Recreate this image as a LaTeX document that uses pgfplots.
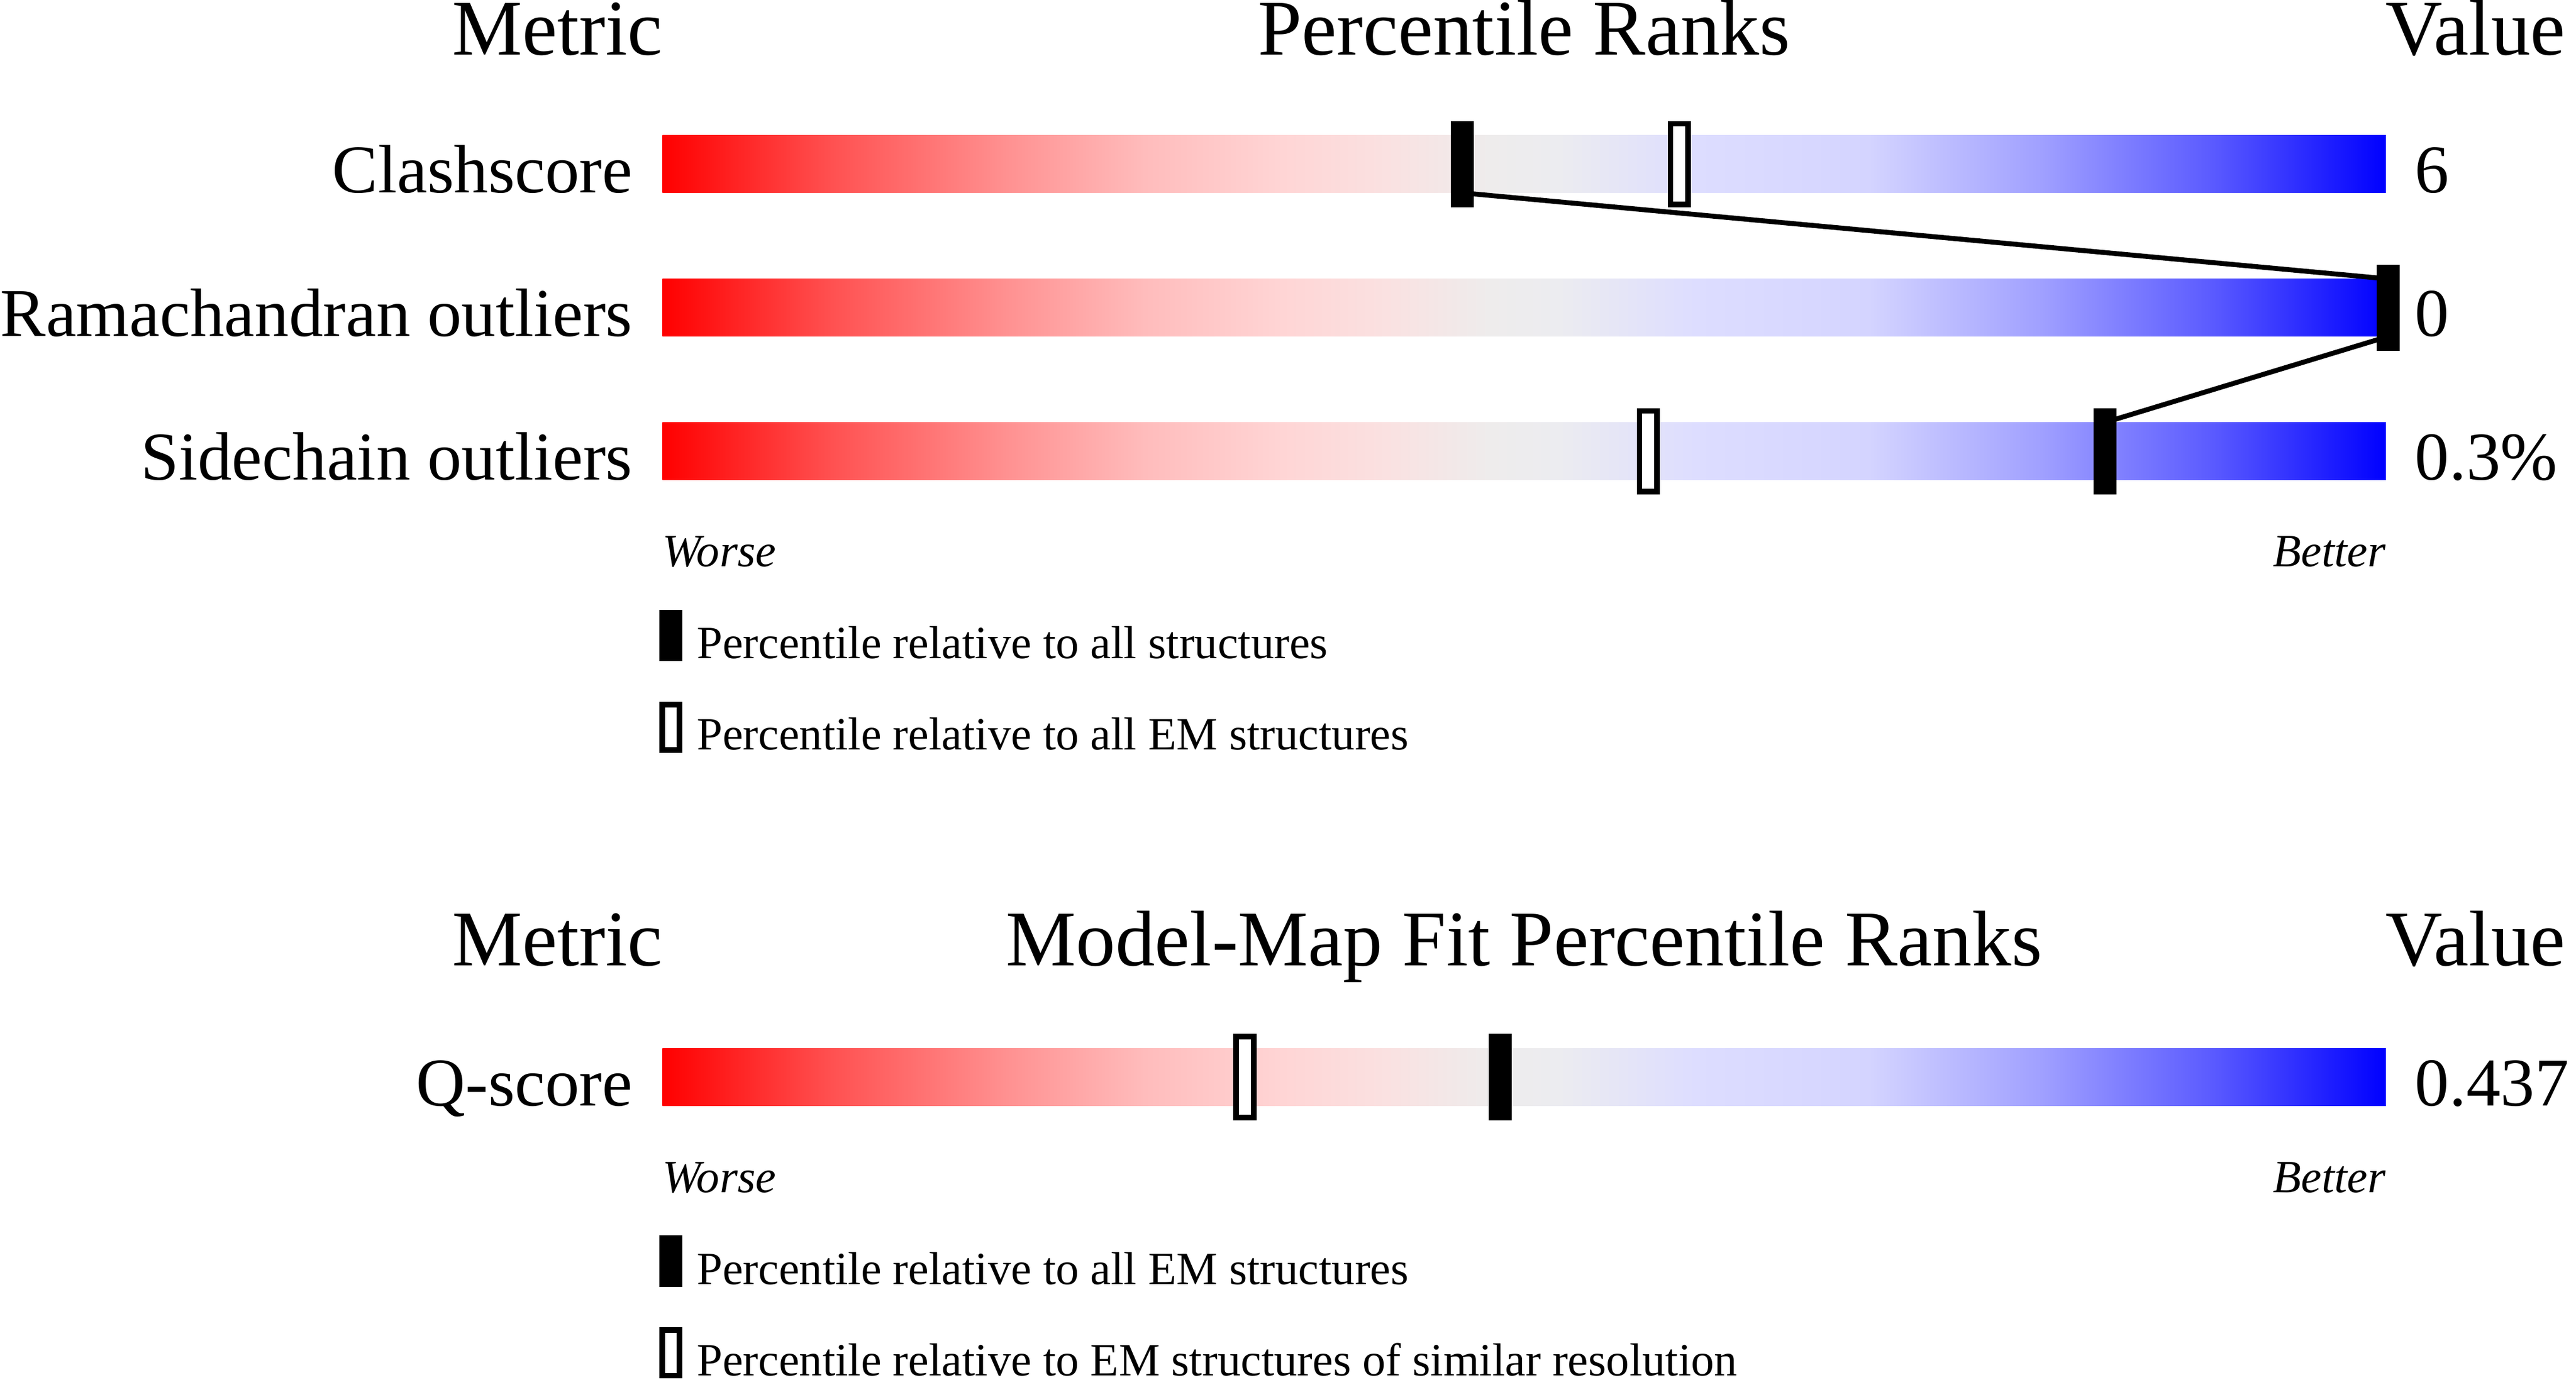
\documentclass[border=0pt]{standalone}
\usepackage{fontspec}
\setmainfont{Liberation Serif}
\usepackage{pgfplots}
\pgfplotsset{compat=1.18}

% slider colours, left (worse) to right (better)
\definecolor{s00}{RGB}{255,0,0}
\definecolor{s10}{RGB}{255,82,82}
\definecolor{s20}{RGB}{255,145,145}
\definecolor{s28}{RGB}{255,188,188}
\definecolor{s36}{RGB}{255,213,213}
\definecolor{s42}{RGB}{250,225,225}
\definecolor{s48}{RGB}{238,236,236}
\definecolor{s52}{RGB}{236,236,240}
\definecolor{s60}{RGB}{221,221,255}
\definecolor{s70}{RGB}{212,212,255}
\definecolor{s80}{RGB}{160,160,255}
\definecolor{s90}{RGB}{90,90,255}
\definecolor{s100}{RGB}{0,0,255}
\pgfdeclarehorizontalshading{slider}{100bp}{%
  color(0bp)=(s00); color(25bp)=(s00); color(30bp)=(s10); color(35bp)=(s20);
  color(39bp)=(s28); color(43bp)=(s36); color(46bp)=(s42); color(49bp)=(s48);
  color(51bp)=(s52); color(55bp)=(s60); color(60bp)=(s70); color(65bp)=(s80);
  color(70bp)=(s90); color(75bp)=(s100); color(100bp)=(s100)}

% percentile markers (1 px of the original = 0.01cm)
\pgfdeclareplotmark{pctfull}{%
  \pgfpathrectangle{\pgfpoint{-0.07cm}{-0.2625cm}}{\pgfpoint{0.14cm}{0.525cm}}%
  \pgfusepathqfill}
\pgfdeclareplotmark{pcthollow}{%
  \pgfsetlinewidth{0.034cm}%
  \pgfpathrectangle{\pgfpoint{-0.053cm}{-0.2455cm}}{\pgfpoint{0.106cm}{0.491cm}}%
  \pgfusepathqfillstroke}
\pgfdeclareplotmark{legfull}{%
  \pgfpathrectangle{\pgfpoint{-0.0695cm}{-0.156cm}}{\pgfpoint{0.139cm}{0.312cm}}%
  \pgfusepathqfill}
\pgfdeclareplotmark{leghollow}{%
  \pgfsetlinewidth{0.034cm}%
  \pgfpathrectangle{\pgfpoint{-0.0525cm}{-0.139cm}}{\pgfpoint{0.105cm}{0.278cm}}%
  \pgfusepathqfillstroke}

\newcommand{\lab}{\fontsize{11.84}{14}\selectfont}
\newcommand{\ttl}{\fontsize{13.66}{16}\selectfont}
\newcommand{\sml}{\fontsize{8}{9.6}\selectfont}
\tikzset{
  txt/.style={inner sep=0pt, outer sep=0pt},
  lab/.style={txt, font=\lab},
  ttl/.style={txt, font=\ttl},
  sml/.style={txt, font=\sml},
  end/.style={txt, font=\sml\itshape},
}

\begin{document}
\begin{tikzpicture}
\begin{axis}[
    width=15.68cm, height=8.4cm, scale only axis,
    xmin=-38.437, xmax=111.04,
    ymin=0, ymax=840, y dir=reverse,
    hide axis, clip=false,
  ]
  % slider bars
  \addplot[draw=none, shading=slider] coordinates {(0,82.4) (100,82.4) (100,117.4) (0,117.4)} -- cycle;
  \addplot[draw=none, shading=slider] coordinates {(0,169.8) (100,169.8) (100,204.8) (0,204.8)} -- cycle;
  \addplot[draw=none, shading=slider] coordinates {(0,257.2) (100,257.2) (100,292.2) (0,292.2)} -- cycle;
  \addplot[draw=none, shading=slider] coordinates {(0,638.2) (100,638.2) (100,673.2) (0,673.2)} -- cycle;

  % links between the black markers
  \addplot[black, line width=0.85pt] coordinates {(46.4,117.4) (100.15,169.8)};
  \addplot[black, line width=0.85pt] coordinates {(100.15,204.8) (83.7,257.2)};

  % percentile relative to all structures / all EM structures
  \addplot[only marks, mark=pctfull, black] coordinates {(46.4,99.9) (100.15,187.3) (83.7,274.7) (48.6,655.7)};
  \addplot[only marks, mark=pcthollow, draw=black, fill=white] coordinates {(59.0,99.9) (57.2,274.7) (33.8,655.7)};

  % legend swatches
  \addplot[only marks, mark=legfull, black] coordinates {(0.5,386.8) (0.5,767.8)};
  \addplot[only marks, mark=leghollow, draw=black, fill=white] coordinates {(0.5,442.8) (0.5,823.6)};

  % headings
  \node[ttl, anchor=base east] at (axis cs:0,33.4) {Metric};
  \node[ttl, anchor=base] at (axis cs:50,33.4) {Percentile Ranks};
  \node[ttl, anchor=base west] at (axis cs:100,33.4) {Value};
  \node[ttl, anchor=base east] at (axis cs:0,588) {Metric};
  \node[ttl, anchor=base] at (axis cs:50,588) {Model-Map Fit Percentile Ranks};
  \node[ttl, anchor=base west] at (axis cs:100,588) {Value};

  % metric names
  \node[lab, anchor=base east] at (axis cs:-1.735,117.4) {Clashscore};
  \node[lab, anchor=base east] at (axis cs:-1.735,204.8) {Ramachandran outliers};
  \node[lab, anchor=base east] at (axis cs:-1.735,292.2) {Sidechain outliers};
  \node[lab, anchor=base east] at (axis cs:-1.735,673.2) {Q-score};

  % values
  \node[lab, anchor=base west] at (axis cs:101.7,117.4) {6};
  \node[lab, anchor=base west] at (axis cs:101.7,204.8) {0};
  \node[lab, anchor=base west] at (axis cs:101.7,292.2) {0.3\%};
  \node[lab, anchor=base west] at (axis cs:101.7,673.2) {0.437};

  % scale ends
  \node[end, anchor=base west] at (axis cs:0,345) {Worse};
  \node[end, anchor=base east] at (axis cs:100,345) {Better};
  \node[end, anchor=base west] at (axis cs:0,726) {Worse};
  \node[end, anchor=base east] at (axis cs:100,726) {Better};

  % legend texts
  \node[sml, anchor=base west] at (axis cs:2.0,400.7) {Percentile relative to all structures};
  \node[sml, anchor=base west] at (axis cs:2.0,456.5) {Percentile relative to all EM structures};
  \node[sml, anchor=base west] at (axis cs:2.0,781.8) {Percentile relative to all EM structures};
  \node[sml, anchor=base west] at (axis cs:2.0,837.6) {Percentile relative to EM structures of similar resolution};
\end{axis}
\pgfresetboundingbox
\path (current axis.south west) rectangle (current axis.north east);
\end{tikzpicture}
\end{document}
